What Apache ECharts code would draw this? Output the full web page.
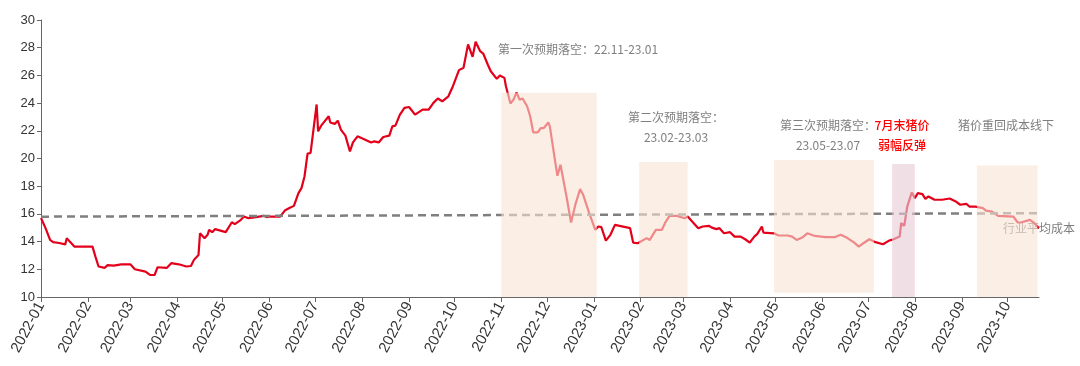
<!DOCTYPE html>
<html><head><meta charset="utf-8">
<script src="https://cdn.jsdelivr.net/npm/echarts@6/dist/echarts.min.js"></script>
<style>html,body{margin:0;padding:0;background:#fff}#c{width:1080px;height:366px}</style>
</head><body><div id="c"></div>
<script>
// pig price series: dates and values
const dates = [
'2022-01-01','2022-01-04','2022-01-07','2022-01-09','2022-01-13','2022-01-17','2022-01-18','2022-01-20','2022-01-23',
'2022-02-04','2022-02-06','2022-02-08','2022-02-12','2022-02-14','2022-02-18','2022-02-23',
'2022-03-01','2022-03-04','2022-03-11','2022-03-14','2022-03-17','2022-03-19','2022-03-25','2022-03-28',
'2022-04-02','2022-04-07','2022-04-10','2022-04-12','2022-04-15','2022-04-16','2022-04-19','2022-04-21','2022-04-22','2022-04-24','2022-04-26',
'2022-05-03','2022-05-04','2022-05-07','2022-05-09','2022-05-13','2022-05-15','2022-05-18','2022-05-23','2022-05-28','2022-05-30',
'2022-06-01','2022-06-08','2022-06-11','2022-06-14','2022-06-17','2022-06-20','2022-06-22','2022-06-24','2022-06-26','2022-06-28',
'2022-07-02','2022-07-03','2022-07-05','2022-07-10','2022-07-11','2022-07-14','2022-07-16','2022-07-18','2022-07-21','2022-07-24','2022-07-26','2022-07-29','2022-07-30',
'2022-08-02','2022-08-07','2022-08-09','2022-08-12','2022-08-15','2022-08-19','2022-08-21','2022-08-23','2022-08-26','2022-08-29',
'2022-09-01','2022-09-05','2022-09-10','2022-09-14','2022-09-17','2022-09-20','2022-09-23','2022-09-27','2022-09-30',
'2022-10-04','2022-10-07','2022-10-10','2022-10-13','2022-10-15','2022-10-18','2022-10-20','2022-10-23','2022-10-25','2022-10-29','2022-10-31',
'2022-11-03','2022-11-04','2022-11-07','2022-11-09','2022-11-11','2022-11-13','2022-11-15','2022-11-18','2022-11-20','2022-11-22','2022-11-25','2022-11-27','2022-11-29',
'2022-12-02','2022-12-03','2022-12-06','2022-12-08','2022-12-10','2022-12-11','2022-12-14','2022-12-17','2022-12-20','2022-12-23','2022-12-25','2022-12-29',
'2023-01-02','2023-01-04','2023-01-06','2023-01-07','2023-01-09','2023-01-12','2023-01-15','2023-01-25','2023-01-27','2023-01-30','2023-01-31',
'2023-02-05','2023-02-07','2023-02-11','2023-02-15','2023-02-17','2023-02-20','2023-02-25',
'2023-03-02','2023-03-04','2023-03-11','2023-03-14','2023-03-18','2023-03-20','2023-03-23','2023-03-25','2023-03-28',
'2023-04-01','2023-04-04','2023-04-08','2023-04-11','2023-04-14','2023-04-17','2023-04-19','2023-04-22','2023-04-23','2023-04-30',
'2023-05-03','2023-05-09','2023-05-12','2023-05-15','2023-05-19','2023-05-22','2023-05-27',
'2023-06-03','2023-06-09','2023-06-13','2023-06-17','2023-06-22','2023-06-25','2023-06-28',
'2023-07-02','2023-07-06','2023-07-11','2023-07-15','2023-07-18','2023-07-22','2023-07-23','2023-07-25','2023-07-27','2023-07-30',
'2023-08-01','2023-08-03','2023-08-06','2023-08-08','2023-08-10','2023-08-14','2023-08-19','2023-08-24','2023-08-28','2023-08-31',
'2023-09-04','2023-09-06','2023-09-10','2023-09-15','2023-09-17','2023-09-21','2023-09-25',
'2023-10-05','2023-10-08','2023-10-10','2023-10-16','2023-10-19','2023-10-22'
];
const prices = [
15.7,14.97,14.12,13.96,13.9,13.8,14.25,14.0,13.64,
13.64,12.9,12.2,12.1,12.3,12.27,12.36,
12.36,12.0,11.83,11.59,11.59,12.15,12.1,12.44,
12.36,12.2,12.24,12.68,13.04,14.6,14.25,14.49,14.85,14.68,14.9,
14.68,14.6,15.4,15.26,15.57,15.81,15.69,15.77,15.86,15.77,
15.81,15.81,16.24,16.42,16.58,17.5,17.86,18.7,20.35,20.4,
23.9,21.96,22.37,23.05,22.6,22.5,22.73,22.08,21.65,20.51,21.16,21.6,21.65,
21.41,21.16,21.24,21.16,21.55,21.65,22.32,22.37,23.17,23.65,
23.72,23.17,23.53,23.53,24.0,24.33,24.13,24.49,25.22,
26.38,26.55,28.24,27.34,28.43,27.75,27.58,26.79,26.3,25.75,25.99,
25.82,25.22,23.97,24.25,24.78,24.25,24.33,23.77,23.05,21.89,21.89,22.2,22.2,
22.6,22.32,20.15,18.75,19.55,18.99,17.26,15.38,16.73,17.79,17.38,16.06,
14.85,15.09,15.04,15.14,14.07,14.49,15.21,14.97,13.93,13.88,13.81,
14.25,14.12,14.85,14.85,15.33,15.86,15.86,
15.69,15.81,14.97,15.09,15.14,15.01,14.9,14.97,14.6,
14.68,14.36,14.36,14.17,13.93,14.36,14.56,15.09,14.65,14.6,
14.44,14.44,14.36,14.12,14.32,14.6,14.41,
14.32,14.32,14.49,14.29,13.93,13.64,13.88,
14.17,13.96,13.81,14.07,14.17,14.36,15.33,15.14,16.53,17.55,
17.14,17.5,17.43,17.09,17.26,17.02,17.02,17.11,16.9,16.66,
16.73,16.53,16.53,16.42,16.24,16.17,15.86,
15.81,15.38,15.38,15.57,15.33,14.97
];
// industry average cost line (endpoints)
const costDates = ['2022-01-01','2023-10-23'];
const costValues = [15.8, 16.05];
// shaded periods
const areaStarts = ['2022-11-01','2023-01-31','2023-04-30','2023-07-17','2023-09-11'];
const areaEnds   = ['2023-01-03','2023-03-04','2023-07-05','2023-08-01','2023-10-21'];
const areaTops   = [24.75, 19.75, 19.9, 19.6, 19.5];
const areaBottoms= [10, 10, 10.3, 10, 10];
const areaKinds  = [0, 0, 0, 1, 0];
const yTicks = {min: 10, max: 30, interval: 2};
const xMin = '2022-01-01', xMax = '2023-10-22';

const chart = echarts.init(document.getElementById('c'));
const areaColors = ['rgba(247,226,212,0.6)', 'rgba(230,204,211,0.62)'];
const gray = '#7f7f7f';
const cjk = '"Noto Sans CJK SC", sans-serif';
chart.setOption({
  animation: false,
  grid: {left: 41, right: 41, top: 20, bottom: 69},
  xAxis: {
    type: 'time', min: xMin, max: xMax, splitNumber: 22,
    minInterval: 28 * 86400000, maxInterval: 31 * 86400000,
    axisLine: {lineStyle: {color: '#666', width: 1}},
    axisTick: {show: true, length: 5, lineStyle: {color: '#666'}},
    splitLine: {show: false},
    axisLabel: {
      rotate: 62, fontSize: 15, color: '#333', fontFamily: 'Liberation Sans, Arial',
      margin: 6,
      formatter: v => echarts.time.format(v, '{yyyy}-{MM}', false)
    }
  },
  yAxis: {
    type: 'value', min: yTicks.min, max: yTicks.max, interval: yTicks.interval,
    axisLine: {show: true, lineStyle: {color: '#666'}},
    axisTick: {show: true, length: 4, lineStyle: {color: '#666'}},
    splitLine: {show: false},
    axisLabel: {fontSize: 13, color: '#333', fontFamily: 'Liberation Sans, Arial', margin: 6}
  },
  series: [
    {type: 'line', z: 2, symbol: 'none', data: dates.map((d, i) => [d, prices[i]]),
     lineStyle: {color: '#e3001b', width: 2.2}},
    {type: 'line', z: 3, symbol: 'none', data: costDates.map((d, i) => [d, costValues[i]]),
     lineStyle: {color: gray, width: 2.5, type: [8, 5]}},
    {type: 'custom', z: 5, silent: true,
     data: areaStarts.map((s, i) => [echarts.time.parse(s).getTime(), echarts.time.parse(areaEnds[i]).getTime(), areaBottoms[i], areaTops[i], areaKinds[i]]),
     encode: {x: [0, 1], y: [2, 3]},
     renderItem: (params, api) => {
       const p0 = api.coord([api.value(0), api.value(3)]);
       const p1 = api.coord([api.value(1), api.value(2)]);
       return {type: 'rect', shape: {x: p0[0], y: p0[1], width: p1[0] - p0[0], height: p1[1] - p0[1]},
               style: {fill: areaColors[api.value(4)]}};
     }}
  ],
  graphic: [
    {type: 'text', left: 498, top: 43, style: {text: '第一次预期落空：22.11-23.01', fill: gray, font: '12px ' + cjk}},
    {type: 'text', x: 676, y: 107, style: {text: '第二次预期落空：\n23.02-23.03', fill: gray, font: '12px ' + cjk, align: 'center', lineHeight: 20}},
    {type: 'text', x: 828, y: 115, style: {text: '第三次预期落空：\n23.05-23.07', fill: gray, font: '12px ' + cjk, align: 'center', lineHeight: 20}},
    {type: 'text', x: 902, y: 115, style: {text: '7月末猪价\n弱幅反弹', fill: '#ff0000', font: '500 12px ' + cjk, align: 'center', lineHeight: 20}},
    {type: 'text', left: 958, top: 119, style: {text: '猪价重回成本线下', fill: gray, font: '12px ' + cjk}},
    {type: 'text', left: 1003, top: 222, style: {text: '行业平均成本', fill: gray, font: '12px ' + cjk}}
  ]
});
</script></body></html>
